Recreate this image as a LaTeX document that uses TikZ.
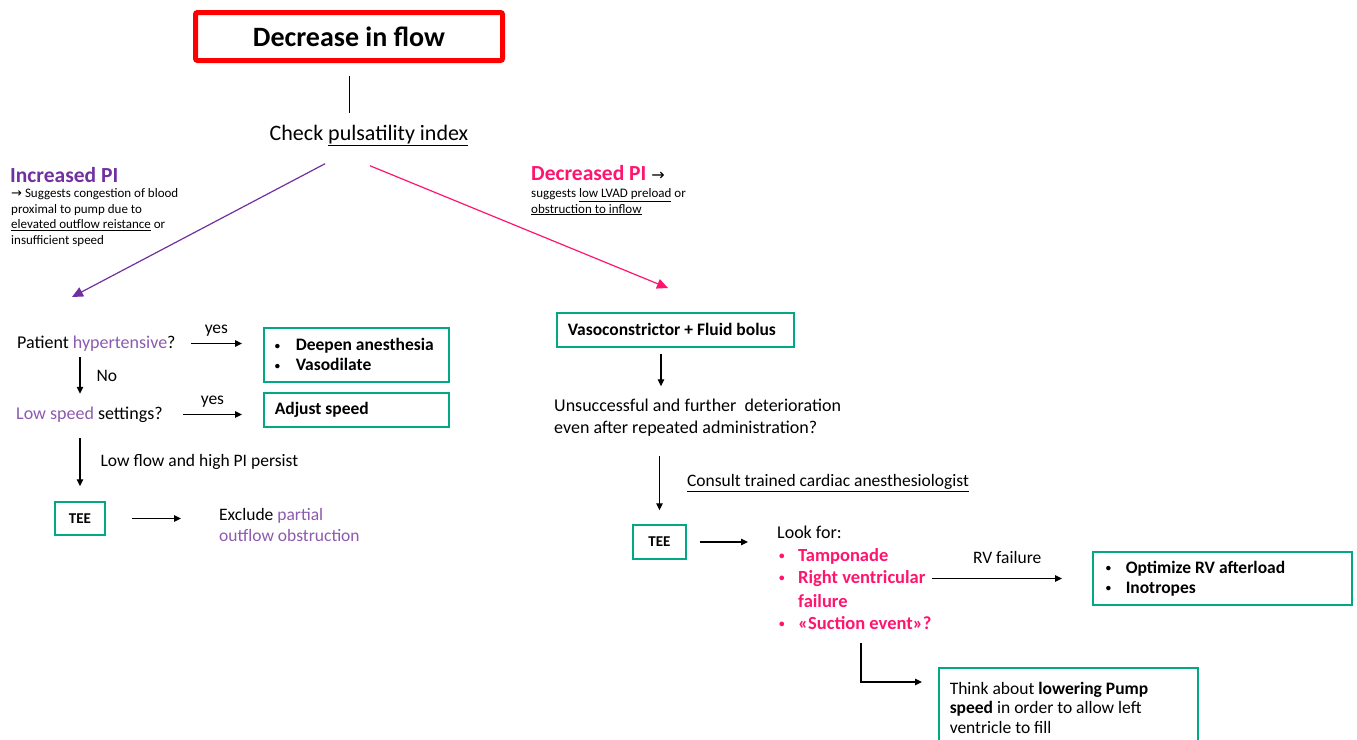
\documentclass[tikz,border=0pt]{standalone}
\usepackage{fontspec}
\setmainfont{Carlito}
\newfontfamily\symf{DejaVu Sans}
\usetikzlibrary{arrows.meta,calc}
\definecolor{boxgreen}{RGB}{0,168,132}
\definecolor{pipink}{RGB}{255,20,110}
\definecolor{pipurple}{RGB}{112,48,160}
\definecolor{softpurple}{RGB}{140,90,175}
\newcommand{\bul}[1]{\makebox[#1][l]{\raisebox{1.5pt}{\scalebox{0.6}{\textbullet}}}}
\tikzset{
  flowbox/.style={draw=red, line width=5pt, rounded corners=2pt, minimum width=307pt,
    minimum height=48pt, font=\fontsize{28}{32}\selectfont\bfseries},
  gbox/.style={draw=boxgreen, line width=1.5pt, anchor=north west, align=flush left,
    inner xsep=11pt, inner ysep=0pt, font=\fontsize{17.5}{20}\selectfont\bfseries},
  txt/.style={anchor=base west, align=left, inner sep=0pt, font=\fontsize{18}{22}\selectfont},
  oneline/.style={text height=13pt, text depth=4pt},
  pitem/.style={txt, oneline, text=pipink, font=\fontsize{18.5}{22}\selectfont\bfseries},
  lbl/.style={inner sep=0pt, font=\fontsize{17.5}{21}\selectfont},
  note/.style={anchor=base west, align=left, inner sep=0pt, font=\fontsize{13}{15.4}\selectfont},
  head/.style={anchor=base west, inner sep=0pt, font=\fontsize{21.5}{25}\selectfont\bfseries},
  arrow/.style={-{Triangle[length=7pt,width=6.5pt]}, line width=1.1pt},
  piarrow/.style={-{Triangle[length=11pt,width=10pt]}, line width=1.2pt},
}
\begin{document}
\begin{tikzpicture}[x=1pt,y=-1pt]
      \useasboundingbox (0,0) rectangle (1357,739);
      \clip (0,0) rectangle (1357,739);
      % multi-line text nodes sit on the baseline of their last line
      \draw
        (349,36.5) node[flowbox] (flow) {Decrease in flow}
        (369,140) node[txt, anchor=base, font=\fontsize{22}{26}\selectfont] (check) {Check \underline{pulsatility index}}
        (10,182) node[head, text=pipurple] (incr) {Increased PI}
        (11,244) node[note] (incrnote) {{\symf →} Suggests congestion of blood\\proximal to pump due to\\\underline{elevated outflow reistance} or\\insufficient speed}
        (531,180) node[head, text=pipink] (decr) {Decreased PI {\color{black}\mdseries\fontsize{16}{18}\symf →}}
        (531,213) node[note] (decrnote) {suggests \underline{low LVAD preload} or\\\underline{obstruction to inflow}}
        (17,348) node[txt, oneline] (hyp) {Patient \textcolor{softpurple}{hypertensive}?}
        (263,327) node[gbox, text width=163pt, minimum height=54pt] (deep) {\bul{21pt}Deepen anesthesia\\\bul{21pt}Vasodilate}
        (16,419) node[txt, oneline] (lows) {\textcolor{softpurple}{Low speed} settings?}
        (263,392) node[gbox, text width=163pt, minimum height=34pt] (adj) {Adjust speed}
        (80,518.5) node[gbox, anchor=center, minimum width=50pt, minimum height=33pt, font=\fontsize{15}{18}\selectfont\bfseries] (teel) {TEE}
        (219,541) node[txt, font=\fontsize{17.5}{21}\selectfont] (excl) {Exclude \textcolor{softpurple}{partial}\\\textcolor{softpurple}{outflow obstruction}}
        (556,312) node[gbox, text width=215pt, minimum height=34pt] (vaso) {Vasoconstrictor + Fluid bolus}
        (554,433) node[txt] (unsucc) {Unsuccessful and further\ \ deterioration\\even after repeated administration?}
        (659.5,542) node[gbox, anchor=center, minimum width=53pt, minimum height=34pt, font=\fontsize{15}{18}\selectfont\bfseries] (teer) {TEE}
        (777,538) node[txt, oneline] (look) {Look for:}
        (779,561) node[pitem] (tamp) {\bul{19pt}Tamponade}
        (779,583) node[pitem] (rvf) {\bul{19pt}Right ventricular}
        (798,607) node[pitem] (rvfb) {failure}
        (779,629) node[pitem] (suct) {\bul{19pt}«Suction event»?}
        (1092,551) node[gbox, text width=233pt, minimum height=53pt, inner xsep=13pt] (optim) {\bul{20pt}Optimize RV afterload\\\bul{20pt}Inotropes}
        (938,667) node[gbox, text width=237pt, minimum height=80pt, font=\fontsize{17.5}{19.5}\selectfont] (think) {Think about \textbf{lowering Pump}\\\textbf{speed} in order to allow left\\ventricle to fill};
      \coordinate (incrtip) at (72,297);
      \coordinate (decrtip) at (668,288);
      \draw[line width=1pt] ($(flow.south)+(0,12.5)$) -- ($(flow.south |- check.north)+(0,-12)$);
      \draw[piarrow, pipurple] ($(check.south)+(-44,18)$) -- (incrtip);
      \draw[piarrow, pipink] ($(check.south)+(1,20)$) -- (decrtip);
      \begin{scope}[arrow]
        \draw ($(hyp.east)+(15,0)$) -- ($(hyp.east -| deep.west)+(-21,0)$) node[midway, lbl, above=7pt] {yes};
        \draw ($(hyp.south west)+(63,5)$) -- ($(lows.north west)+(64,-12)$) node[midway, lbl, right=16pt] {No};
        \draw ($(lows.east)+(20,0)$) -- ($(lows.east -| adj.west)+(-21,0)$) node[midway, lbl, above=7pt] {yes};
        \draw ($(lows.south -| teel.north)+(0,15)$) -- ($(teel.north)+(0,-15)$) node[midway, lbl, right=20pt] {Low flow and high PI persist};
        \draw ($(teel.east)+(26,0)$) -- ($(teel.east -| excl.west)+(-38,0)$);
        \draw ($(vaso.south west)+(105,6)$) -- ($(vaso.south west |- unsucc.north)+(105,-12)$);
        \draw ($(teer.north)+(0,-68)$) -- ($(teer.north)+(0,-14)$) node[midway, lbl, right=27pt] {\underline{Consult trained cardiac anesthesiologist}};
        \draw ($(teer.east)+(13,0)$) -- ($(teer.east -| look.west)+(-29,0)$);
        \draw ($(rvf.east)+(6,0)$) -- ($(rvf.east -| optim.west)+(-30,0)$) node[pos=0.58, lbl, above=14pt] {RV failure};
        \draw ($(suct.south west)+(82,10)$) |- ($(think.north west)+(-16,15)$);
      \end{scope}
    \end{tikzpicture}
\end{document}
